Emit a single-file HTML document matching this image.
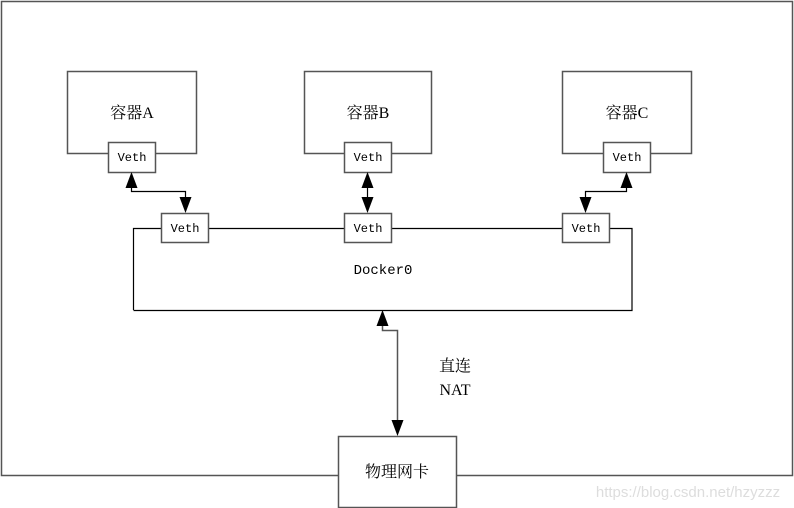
<!DOCTYPE html>
<html><head><meta charset="utf-8"><style>
html,body{margin:0;padding:0;background:#fff;}
svg{display:block;}
.s{font-family:"Liberation Serif","Noto Serif CJK SC",serif;}
.m{font-family:"Liberation Mono","Noto Sans CJK SC",monospace;}
</style></head><body>
<svg width="794" height="508" viewBox="0 0 794 508" xmlns="http://www.w3.org/2000/svg">
<defs>
<marker id="ah" markerWidth="10" markerHeight="12" refX="10" refY="5" orient="auto" markerUnits="userSpaceOnUse" viewBox="0 0 10 10">
<path d="M0,0 L10,5 L0,10 z" fill="#000"/></marker>
</defs>
<g fill="none" stroke="#555" stroke-width="1.5">
<rect x="1.5" y="1.5" width="791" height="474"/>
<rect x="67.5" y="71.5" width="129" height="82"/>
<rect x="304.5" y="71.5" width="127" height="82"/>
<rect x="562.5" y="71.5" width="129" height="82"/>
<path d="M133.5,310 V228.5 H161 M208,228.5 H344 M391,228.5 H562 M609,228.5 H632 V310.5 H133.5" stroke="#000" stroke-width="1.2"/>
</g>
<g fill="#fff" stroke="#555" stroke-width="1.5">
<rect x="108.5" y="142.5" width="47" height="30"/>
<rect x="344.5" y="142.5" width="47" height="30"/>
<rect x="603.5" y="142.5" width="47" height="30"/>
<rect x="161.5" y="213.5" width="47" height="29"/>
<rect x="344.5" y="213.5" width="47" height="29"/>
<rect x="562.5" y="213.5" width="47" height="29"/>
<rect x="338.5" y="436.5" width="118" height="71"/>
</g>
<g fill="none" stroke="#000" stroke-width="1.2">
<path d="M131.5,188 V191.5 H185.5 V200" />
<path d="M626.5,188 V191.5 H585.5 V200" />
<path d="M367.5,188 V198" />
<path d="M382.5,326 V330.5 H397.5 V422" stroke="#555" stroke-width="1.5"/>
</g>
<g fill="#000">
<path d="M131.5,172 L125.5,188 L137.5,188z"/>
<path d="M185.5,213 L179.5,197 L191.5,197z"/>
<path d="M626.5,172 L620.5,188 L632.5,188z"/>
<path d="M585.5,213 L579.5,197 L591.5,197z"/>
<path d="M367.5,172 L361.5,188 L373.5,188z"/>
<path d="M367.5,213 L361.5,197 L373.5,197z"/>
<path d="M382.5,310 L376.5,326 L388.5,326z"/>
<path d="M397.5,436 L391.5,420 L403.5,420z"/>
</g>
<g class="m" font-size="12" text-anchor="middle" fill="#000">
<text x="132" y="161">Veth</text>
<text x="368" y="161">Veth</text>
<text x="627" y="161">Veth</text>
<text x="185" y="232">Veth</text>
<text x="368" y="232">Veth</text>
<text x="586" y="232">Veth</text>
<text x="383" y="274" font-size="14">Docker0</text>
</g>
<g class="s" font-size="16" text-anchor="middle" fill="#000">
<text x="132" y="118">容器A</text>
<text x="368" y="118">容器B</text>
<text x="627" y="118">容器C</text>
<text x="455" y="371">直连</text>
<text x="455" y="395">NAT</text>
<text x="397" y="477">物理网卡</text>
</g>
<text x="688" y="497" text-anchor="middle" font-family="Liberation Sans, sans-serif" font-size="15" fill="#ddd">https://blog.csdn.net/hzyzzz</text>
</svg>
</body></html>
